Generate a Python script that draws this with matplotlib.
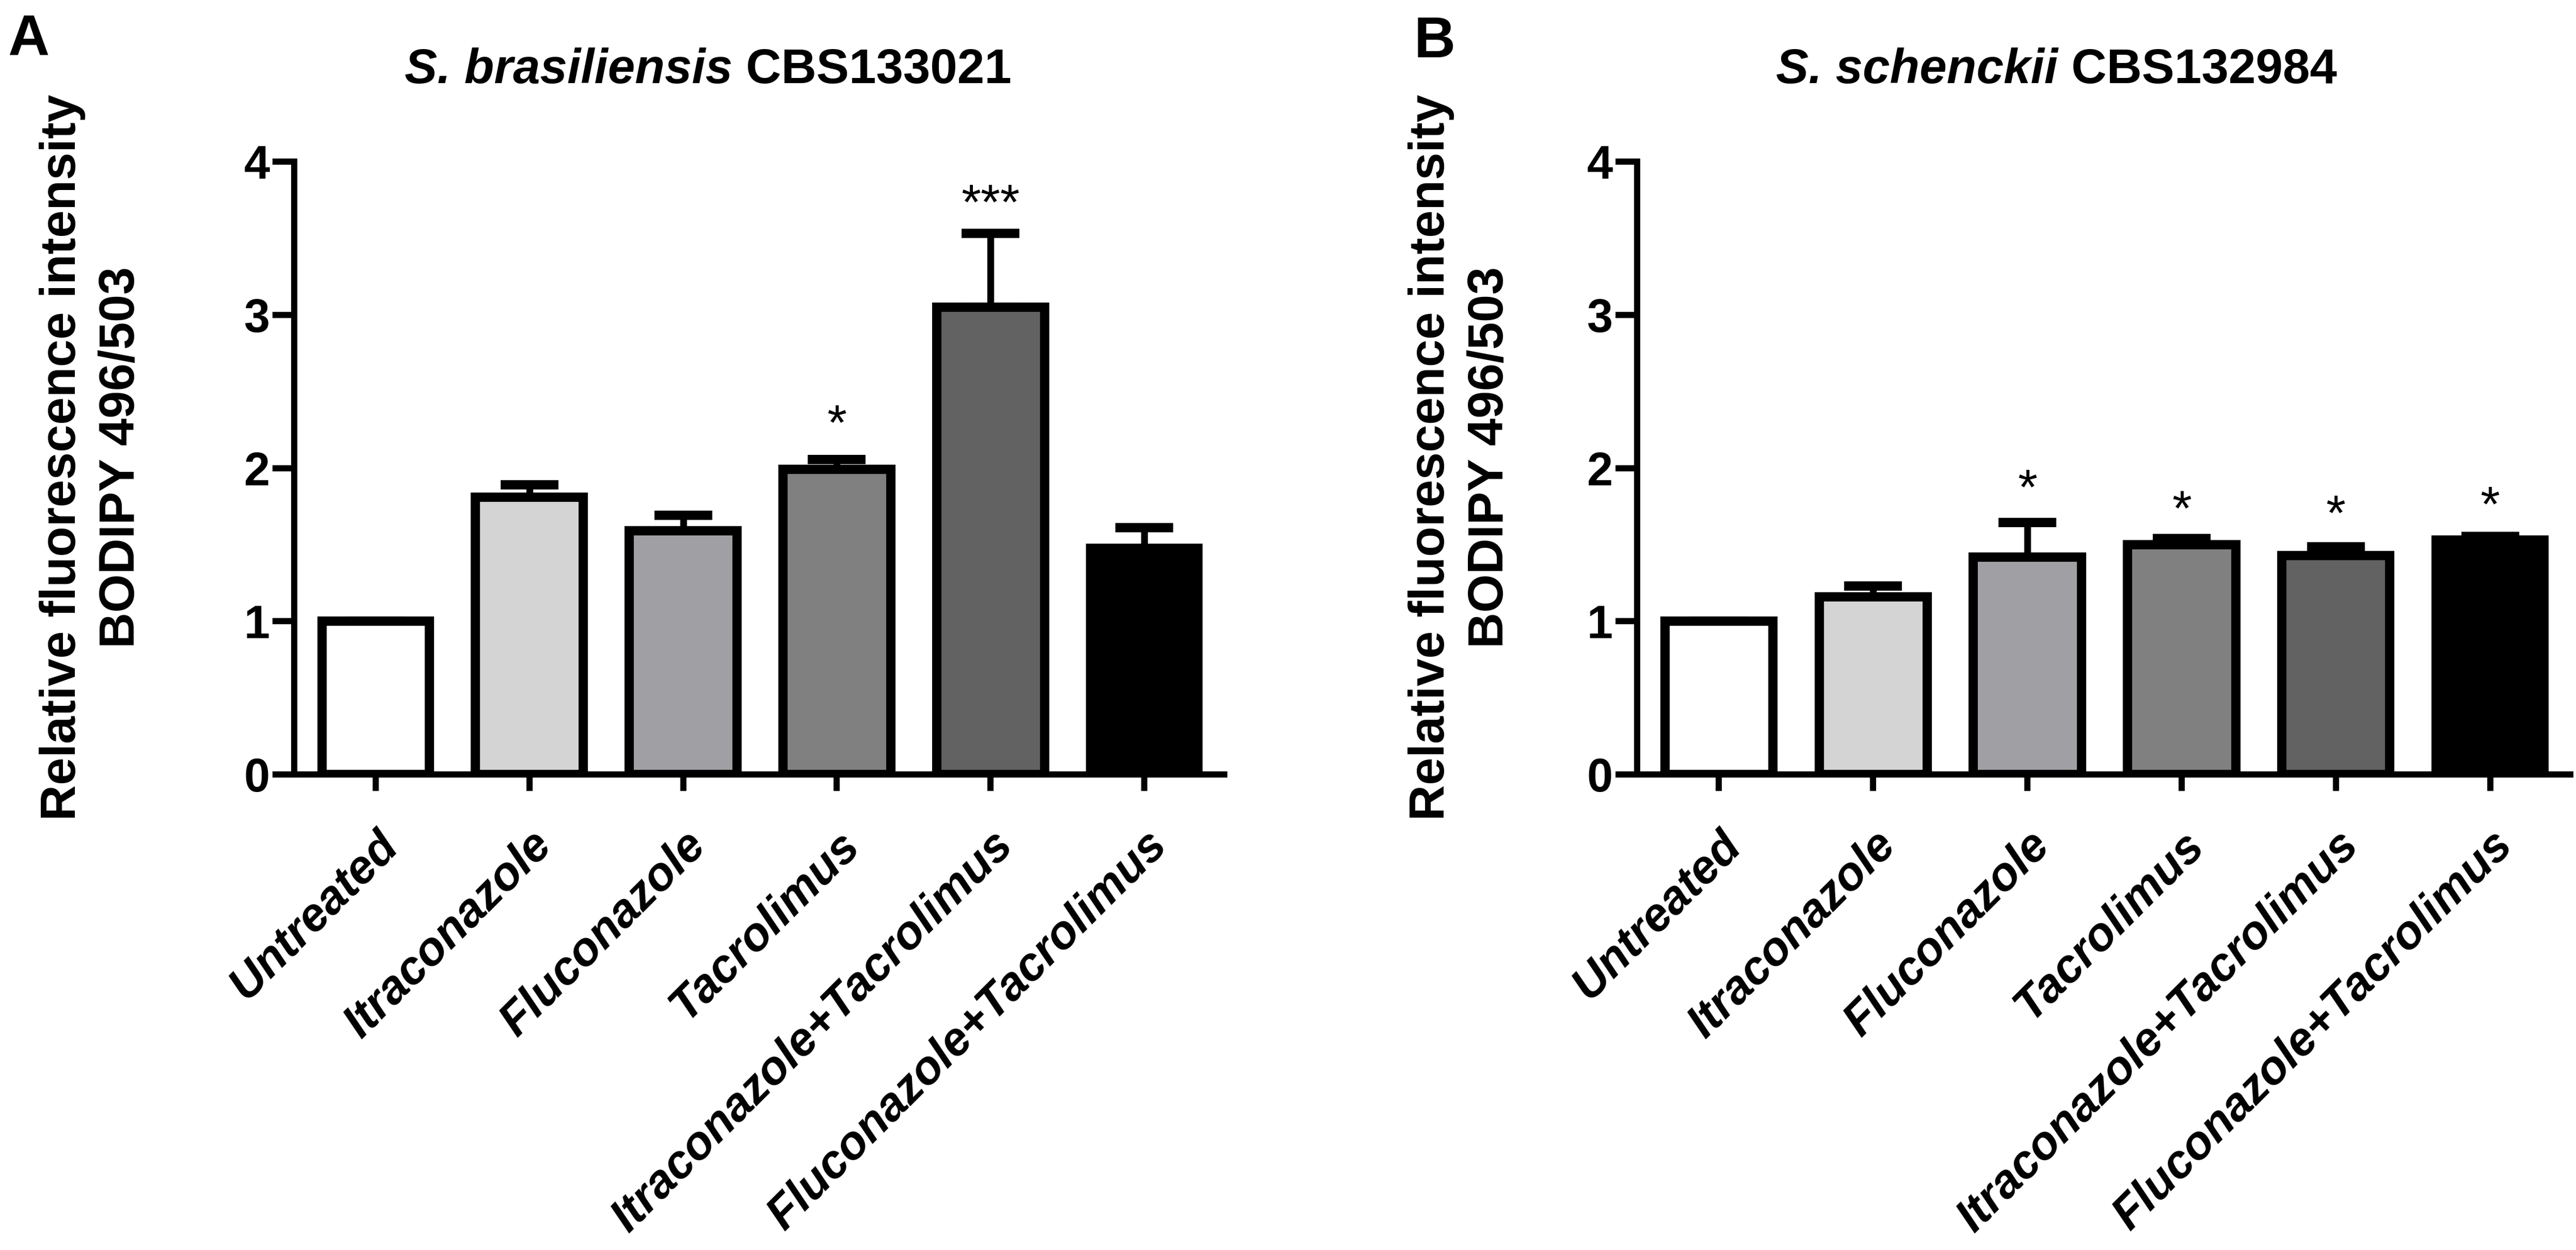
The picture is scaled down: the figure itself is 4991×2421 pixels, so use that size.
"""Lipid body fluorescence (BODIPY) in Sporothrix after drug treatment."""
import matplotlib
matplotlib.use("Agg")
import matplotlib.pyplot as plt
import numpy as np

plt.rcParams['font.family'] = ['Liberation Sans', 'DejaVu Sans']

W, H = 4991, 2421

# data
treatments = ['Untreated', 'Itraconazole', 'Fluconazole', 'Tacrolimus',
              'Itraconazole+Tacrolimus', 'Fluconazole+Tacrolimus']
bar_colors = ['#ffffff', '#d4d4d4', '#a0a0a4', '#808080', '#626262', '#000000']

mean_a = [1.0, 1.81, 1.59, 1.99, 3.05, 1.475]
err_a = [0.0, 0.08, 0.10, 0.066, 0.48, 0.135]
stars_a = ['', '', '', '*', '***', '']
star_y_a = [0, 0, 0, 2.27, 3.71, 0]

mean_b = [1.0, 1.16, 1.42, 1.50, 1.43, 1.53]
err_b = [0.0, 0.07, 0.225, 0.04, 0.055, 0.022]
stars_b = ['', '', '*', '*', '*', '*']
star_y_b = [0, 0, 1.85, 1.71, 1.68, 1.74]

ylab = 'Relative fluorescence intensity\nBODIPY 496/503'

fig = plt.figure(figsize=(W / 100, H / 100), dpi=100)


def panel(left_px, right_px, means, errs, stars, star_y):
    ax = fig.add_axes([left_px / W, 1 - 1500 / H, (right_px - left_px) / W, (1500 - 313) / H])
    x = np.arange(len(treatments))
    ax.bar(x, means, width=0.7, color=bar_colors, edgecolor='black', linewidth=13, zorder=3)
    ax.errorbar(x, means, yerr=[np.zeros(len(errs)), errs], fmt='none', ecolor='black',
                elinewidth=9.5, capsize=40, capthick=13, zorder=2)
    for xi, s, sy in zip(x, stars, star_y):
        if s:
            ax.text(xi, sy, s, ha='center', va='center', fontsize=70, zorder=4)
    ax.set_xlim(-0.53, 5.52)
    ax.set_ylim(0, 4)
    ax.set_yticks([0, 1, 2, 3, 4])
    ax.set_xticks(x)
    ax.set_xticklabels(treatments, rotation=45, ha='right', va='top', rotation_mode='anchor',
                       fontsize=65, fontweight='bold', fontstyle='italic')
    for lab in ax.get_yticklabels():
        lab.set_fontweight('bold')
    ax.tick_params(axis='y', labelsize=65, length=30, width=8.6, pad=4)
    ax.tick_params(axis='x', length=23, width=8.6, pad=45)
    for side in ['top', 'right']:
        ax.spines[side].set_visible(False)
    for side in ['left', 'bottom']:
        ax.spines[side].set_linewidth(8.6)
    return ax


def mixed_title(xc_px, y_px, ital, plain, size):
    r = fig.canvas.get_renderer()
    t1 = fig.text(0, 1 - y_px / H, ital, fontsize=size, fontweight='bold',
                  fontstyle='italic', va='center', ha='left')
    t2 = fig.text(0, 1 - y_px / H, plain, fontsize=size, fontweight='bold',
                  va='center', ha='left')
    w1 = t1.get_window_extent(r).width
    w2 = t2.get_window_extent(r).width
    x0 = xc_px - (w1 + w2) / 2
    t1.set_x(x0 / W)
    t2.set_x((x0 + w1) / W)


panel(570, 2372, mean_a, err_a, stars_a, star_y_a)
panel(3172, 4980, mean_b, err_b, stars_b, star_y_b)

mixed_title(1372, 137, 'S. brasiliensis', ' CBS133021', 68)
mixed_title(3984, 137, 'S. schenckii', ' CBS132984', 68)

fig.text(178 / W, 1 - 886 / H, ylab, rotation=90, ha='center', va='center',
         fontsize=69, fontweight='bold', linespacing=1.35)
fig.text(2830 / W, 1 - 886 / H, ylab, rotation=90, ha='center', va='center',
         fontsize=69, fontweight='bold', linespacing=1.35)

fig.text(15 / W, 1 - 25 / H, 'A', fontsize=80, fontweight='bold', ha='left', va='top')
fig.text(2740 / W, 1 - 30 / H, 'B', fontsize=80, fontweight='bold', ha='left', va='top')

fig.savefig('out.png', dpi=100)
